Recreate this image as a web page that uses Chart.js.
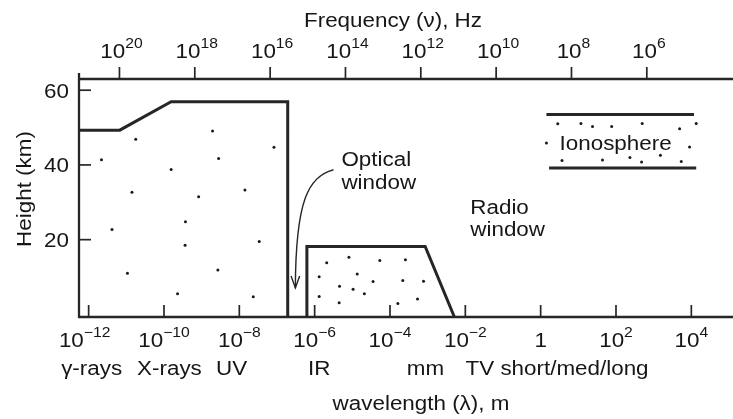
<!DOCTYPE html>
<html><head><meta charset="utf-8">
<script src="https://cdn.jsdelivr.net/npm/chart.js@4.4.0/dist/chart.umd.min.js"></script>
<style>html,body{margin:0;padding:0;background:#fff}#wrap{width:733px;height:419px;position:relative}</style>
</head><body><div id="wrap"><canvas id="c"></canvas></div>
<script>
// ---- axes (log10 exponents) ----
const wavelengthTickExps = [-12, -10, -8, -6, -4, -2, 0, 2, 4];
const frequencyTickExps = [20, 18, 16, 14, 12, 10, 8, 6];
const heightTicks = [20, 40, 60];
const wavelengthRangeExps = [-12.256, 5.0];
const frequencyRangeExps = [21.074, 3.818];
const heightRange = [-0.7, 63];

// ---- band names along the wavelength axis ----
const bandNames = ['γ-rays', 'X-rays', 'UV', 'IR', 'mm', 'TV short/med/long'];
const bandExps = [-11.92, -9.855, -8.206, -5.876, -3.06, 0.435];

// ---- opaque regions (log10 wavelength, height km) ----
const highEnergyExps = [-12.256, -11.174, -9.81, -6.715, -6.715];
const highEnergyHeights = [49.3, 49.3, 56.9, 56.9, -0.7];
const infraredExps = [-6.206, -6.206, -3.066, -2.29];
const infraredHeights = [-0.7, 18.2, 18.2, -0.7];
const ionoTopExps = [0.153, 4.07];
const ionoTopHeights = [53.5, 53.5];
const ionoBottomExps = [0.224, 4.13];
const ionoBottomHeights = [39.2, 39.2];

// ---- stipple dots ----
const highEnergyDotExps = [-11.66, -10.75, -8.71, -7.08, -8.55, -9.81, -10.85, -9.08, -7.85, -11.38, -9.43, -9.44, -7.47, -10.97, -8.57, -9.64, -7.63];
const highEnergyDotHeights = [41.4, 46.9, 49.1, 44.7, 41.7, 38.8, 32.7, 31.5, 33.3, 22.7, 24.8, 18.5, 19.5, 11.0, 11.9, 5.5, 4.7];
const infraredDotExps = [-5.68, -5.09, -4.27, -3.59, -5.88, -4.87, -5.34, -4.98, -4.45, -3.66, -3.11, -5.88, -4.68, -5.35, -3.79, -3.27];
const infraredDotHeights = [13.8, 15.3, 14.4, 14.6, 10.1, 10.8, 7.5, 6.7, 8.8, 9.1, 8.9, 4.8, 5.5, 3.1, 2.9, 4.1];
const ionoDotExps = [0.454, 1.07, 1.377, 1.886, 2.696, 3.689, 4.129, 0.153, 3.953, 0.567, 1.641, 2.37, 2.678, 3.179, 3.733];
const ionoDotHeights = [51.0, 51.1, 50.3, 50.3, 51.1, 49.7, 51.1, 45.9, 44.8, 41.2, 41.3, 42.0, 40.8, 42.6, 40.9];

// ---- annotations ----
const noteTexts = ['Optical', 'window', 'Radio', 'window', 'Ionosphere'];
const noteExps = [-5.29, -5.29, -1.868, -1.868, 1.99];
const noteHeights = [39.8, 33.6, 27.0, 20.9, 44.1];
const noteAligns = ['left', 'left', 'left', 'left', 'center'];
const arrowExps = [-5.50, -6.161, -6.504, -6.512];
const arrowHeights = [38.7, 36.87, 30.7, 7.07];

const INK = '#262626';
const TEXT = '#161616';
const SX = 1.12;
const FS = 20;
const FONT = '"Liberation Sans", Arial, Helvetica, sans-serif';

const pts = (ex, hs) => ex.map((e, i) => ({x: Math.pow(10, e), y: hs[i]}));
const lineDs = (ex, hs) => ({data: pts(ex, hs), showLine: true, borderColor: INK, borderWidth: 3, pointRadius: 0, fill: false, tension: 0, borderJoinStyle: 'miter'});
const dotDs = (ex, hs) => ({data: pts(ex, hs), showLine: false, pointRadius: 1.5, pointBackgroundColor: '#1a1a1a', pointBorderWidth: 0});

function txt(ctx, s, px, py, size, align) {
  ctx.font = size + 'px ' + FONT;
  const w = ctx.measureText(s).width * SX;
  const x0 = align === 'center' ? px - w / 2 : align === 'right' ? px - w : px;
  ctx.save(); ctx.translate(x0, py); ctx.scale(SX, 1);
  ctx.textAlign = 'left'; ctx.textBaseline = 'alphabetic'; ctx.fillText(s, 0, 0);
  ctx.restore();
}
function pow10(ctx, exp, cx, base, raise) {
  if (exp === 0) { txt(ctx, '1', cx, base, FS, 'center'); return; }
  const sup = exp < 0 ? '\u2212' + (-exp) : String(exp);
  ctx.font = FS + 'px ' + FONT; const wb = ctx.measureText('10').width * SX;
  ctx.font = '14px ' + FONT; const ws = ctx.measureText(sup).width * SX;
  const x0 = cx - (wb + ws) / 2;
  txt(ctx, '10', x0, base, FS, 'left');
  txt(ctx, sup, x0 + wb, base - raise, 14, 'left');
}

const axesPlugin = {
  id: 'axesText',
  afterDatasetsDraw(chart) {
    const {ctx, chartArea: a, scales} = chart;
    const x = scales.x, xf = scales.xf, y = scales.y;
    const ln = (x1, y1, x2, y2) => { ctx.beginPath(); ctx.moveTo(x1, y1); ctx.lineTo(x2, y2); ctx.stroke(); };
    ctx.save();
    ctx.strokeStyle = INK; ctx.fillStyle = TEXT; ctx.lineCap = 'butt';
    ctx.lineWidth = 2.3;
    ln(a.left, a.bottom, chart.width, a.bottom);
    ln(a.left, a.top, chart.width, a.top);
    ln(a.left, a.top - 6, a.left, a.bottom + 1.1);
    ctx.lineWidth = 1.7;
    wavelengthTickExps.forEach(e => { const p = x.getPixelForValue(Math.pow(10, e)); ln(p, a.bottom, p, a.bottom - 12); });
    frequencyTickExps.forEach(e => { const p = xf.getPixelForValue(Math.pow(10, e)); ln(p, a.top, p, a.top - 12); });
    heightTicks.forEach(v => { const p = y.getPixelForValue(v); ln(a.left, p, a.left + 12, p); });

    // tick labels
    wavelengthTickExps.forEach(e => pow10(ctx, e, x.getPixelForValue(Math.pow(10, e)) - (e === -12 ? 4 : 0), a.bottom + 29.5, 9.5));
    frequencyTickExps.forEach(e => pow10(ctx, e, xf.getPixelForValue(Math.pow(10, e)) + 2, a.top - 21, 10));
    heightTicks.forEach(v => txt(ctx, String(v), a.left - 10, y.getPixelForValue(v) + 7.5, FS, 'right'));

    // band names
    bandNames.forEach((s, i) => txt(ctx, s, x.getPixelForValue(Math.pow(10, bandExps[i])), a.bottom + 58, FS, 'center'));

    // axis titles
    txt(ctx, 'Frequency (\u03BD), Hz', 393, 27, FS, 'center');
    txt(ctx, 'wavelength (\u03BB), m', 421, 410, FS, 'center');
    ctx.save(); ctx.translate(31, 189); ctx.rotate(-Math.PI / 2);
    txt(ctx, 'Height (km)', 0, 0, FS, 'center');
    ctx.restore();

    // annotations
    noteTexts.forEach((s, i) => txt(ctx, s, x.getPixelForValue(Math.pow(10, noteExps[i])), y.getPixelForValue(noteHeights[i]), FS, noteAligns[i]));

    // optical window arrow
    const ap = arrowExps.map((e, i) => [x.getPixelForValue(Math.pow(10, e)), y.getPixelForValue(arrowHeights[i])]);
    ctx.lineWidth = 1.4;
    ctx.beginPath(); ctx.moveTo(ap[0][0], ap[0][1]);
    ctx.bezierCurveTo(ap[1][0], ap[1][1], ap[2][0], ap[2][1], ap[3][0], ap[3][1]); ctx.stroke();
    const tx = ap[3][0], ty = ap[3][1];
    ctx.beginPath(); ctx.moveTo(tx - 4.3, ty - 12); ctx.lineTo(tx, ty); ctx.lineTo(tx + 4.3, ty - 12); ctx.stroke();
    ctx.restore();
  }
};

new Chart(document.getElementById('c'), {
  type: 'scatter',
  data: {
    datasets: [
      lineDs(highEnergyExps, highEnergyHeights),
      lineDs(infraredExps, infraredHeights),
      lineDs(ionoTopExps, ionoTopHeights),
      lineDs(ionoBottomExps, ionoBottomHeights),
      dotDs(highEnergyDotExps, highEnergyDotHeights),
      dotDs(infraredDotExps, infraredDotHeights),
      dotDs(ionoDotExps, ionoDotHeights)
    ]
  },
  options: {
    responsive: true, maintainAspectRatio: false, animation: false,
    layout: {padding: {left: 79, top: 79, right: 0, bottom: 102}},
    plugins: {legend: {display: false}, tooltip: {enabled: false}},
    scales: {
      x: {type: 'logarithmic', display: false, min: Math.pow(10, wavelengthRangeExps[0]), max: Math.pow(10, wavelengthRangeExps[1])},
      xf: {type: 'logarithmic', axis: 'x', position: 'top', reverse: true, display: false, min: Math.pow(10, frequencyRangeExps[1]), max: Math.pow(10, frequencyRangeExps[0])},
      y: {type: 'linear', display: false, min: heightRange[0], max: heightRange[1]}
    }
  },
  plugins: [axesPlugin]
});
</script>
</body></html>
